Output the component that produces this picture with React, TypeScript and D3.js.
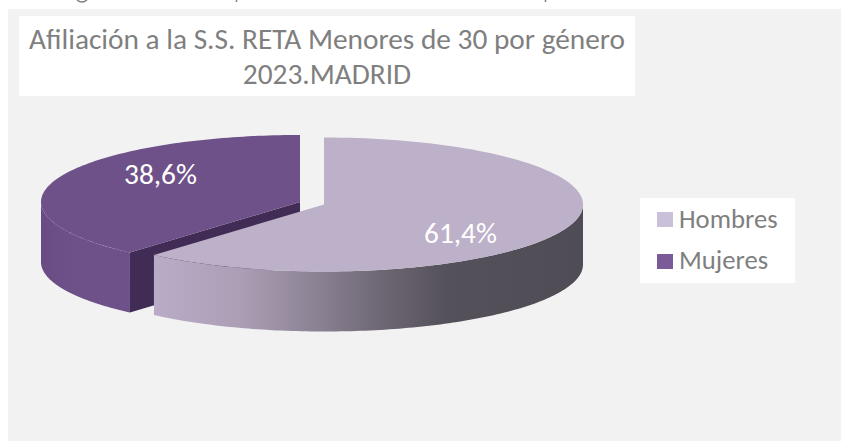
import React from "react";
import * as d3 from "d3";

const categories = ["Hombres", "Mujeres"];
const values = [61.4, 38.6];
const valueLabels = ["61,4%", "38,6%"];
const swatchColors = ["#c9c0d9", "#7a5a97"];
const topColors = ["#bdb0c9", "#6f5189"];
const titleLines = ["Afiliación a la S.S. RETA Menores de 30 por género", "2023.MADRID"];
const FONT = "Carlito, Lato, 'Open Sans', sans-serif";

const pieGen = d3.pie<number>().sort(null)(values);
const unitX = (cx: number, rx: number) => d3.scaleLinear().domain([-1, 1]).range([cx - rx, cx + rx]);
const unitY = (cy: number, ry: number) => d3.scaleLinear().domain([-1, 1]).range([cy - ry, cy + ry]);

const line = d3.line<[number, number]>();
const RX = 259, RY = 67, DEPTH = 60;

function rim(a0: number, a1: number, cx: number, cy: number) {
  const sx = unitX(cx, RX), sy = unitY(cy, RY);
  return d3.range(0, 121).map((i): [number, number] => {
    const a = a0 + ((a1 - a0) * i) / 120;
    return [sx(Math.sin(a)), sy(-Math.cos(a))];
  });
}

export default function App() {
  const hCx = 324, hCy = 204.5, mCx = 300, mCy = 202;
  const h = pieGen[0], m = pieGen[1];

  const hTop = [[hCx, hCy] as [number, number], ...rim(h.startAngle, h.endAngle, hCx, hCy)];
  const hFront = rim(Math.PI / 2, h.endAngle, hCx, hCy);
  const hSide = [...hFront, ...hFront.slice().reverse().map(([x, y]): [number, number] => [x, y + DEPTH])];

  const mTop = [[mCx, mCy] as [number, number], ...rim(m.startAngle, m.endAngle, mCx, mCy)];
  const mFront = rim(m.startAngle, (3 * Math.PI) / 2, mCx, mCy);
  const mSide = [...mFront, ...mFront.slice().reverse().map(([x, y]): [number, number] => [x, y + DEPTH])];
  const edge = rim(m.startAngle, m.startAngle, mCx, mCy)[0];
  const mWall: [number, number][] = [
    [mCx, mCy], edge, [edge[0], edge[1] + DEPTH], [mCx, mCy + DEPTH],
  ];

  const labelPos = [
    { x: 460.5, y: 243 },
    { x: 160.5, y: 184 },
  ];

  return (
    <svg width={841} height={441} style={{ position: "absolute", left: 0, top: 0 }} fontFamily={FONT}>
      <defs>
        <linearGradient id="hSide" gradientUnits="userSpaceOnUse" x1={154} x2={583} y1={0} y2={0}>
          <stop offset="0" stopColor="#baacc8" />
          <stop offset="0.2" stopColor="#ab9eb5" />
          <stop offset="0.36" stopColor="#8f8597" />
          <stop offset="0.52" stopColor="#6f6976" />
          <stop offset="0.68" stopColor="#55515b" />
          <stop offset="1" stopColor="#4f4c55" />
        </linearGradient>
        <linearGradient id="mSide" gradientUnits="userSpaceOnUse" x1={42} x2={80} y1={0} y2={0}>
          <stop offset="0" stopColor="#694c82" />
          <stop offset="0.5" stopColor="#6d4f87" />
          <stop offset="1" stopColor="#6f5189" />
        </linearGradient>
      </defs>
      <rect x={8} y={9} width={833} height={432} fill="#f2f2f2" />
      <path d="M77 0Q82 4 87 0" fill="none" stroke="#7f7f7f" strokeWidth={1.5} />
      <path d="M236.5 0V2M545.5 0V2" fill="none" stroke="#7f7f7f" strokeWidth={1.5} />
      <rect x={19} y={16} width={616} height={80} fill="#ffffff" />
      {titleLines.map((t, i) => (
        <text key={t} x={327} y={49 + i * 34.5} textAnchor="middle" fontSize={29.33} fill="#7f7f7f">{t}</text>
      ))}

      <path d={line(mSide)! + "Z"} fill="url(#mSide)" />
      <path d={line(mWall)! + "Z"} fill="#402c55" />
      <path d={line(mTop)! + "Z"} fill={topColors[1]} />

      <path d={line(hSide)! + "Z"} fill="url(#hSide)" />
      <path d={line(hTop)! + "Z"} fill={topColors[0]} />

      {valueLabels.map((t, i) => (
        <text key={t} x={labelPos[i].x} y={labelPos[i].y} textAnchor="middle" fontSize={29.33} fill="#ffffff">{t}</text>
      ))}

      <rect x={640} y={198} width={155} height={85} fill="#ffffff" />
      {categories.map((c, i) => (
        <g key={c}>
          <rect x={657} y={212 + i * 42} width={16} height={15} fill={swatchColors[i]} />
          <text x={679} y={228 + i * 41} fontSize={26.67} fill="#7f7f7f">{c}</text>
        </g>
      ))}
    </svg>
  );
}
